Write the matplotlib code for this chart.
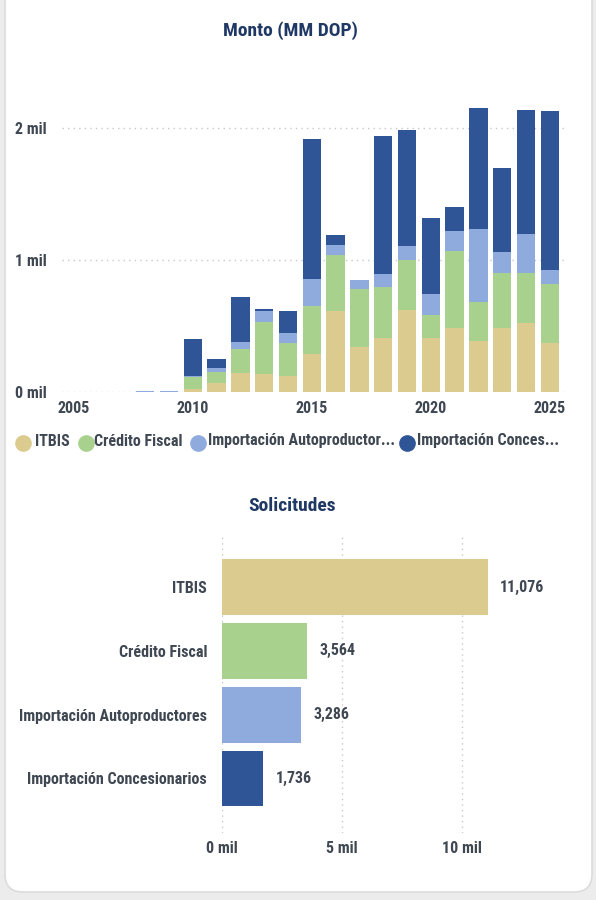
import matplotlib
matplotlib.use("Agg")
import numpy as np
from matplotlib import pyplot as plt
from matplotlib import font_manager
from matplotlib.patches import FancyBboxPatch
from matplotlib.lines import Line2D

# Monto (MM DOP) por año y tipo
years = [2008, 2009, 2010, 2011, 2012, 2013, 2014, 2015, 2016, 2017,
         2018, 2019, 2020, 2021, 2022, 2023, 2024, 2025]
itbis = [0, 0, 22, 68, 144, 134, 121, 283, 614, 341,
         409, 619, 409, 485, 386, 482, 518, 366]
credito = [0, 0, 92, 84, 179, 392, 246, 368, 421, 434,
           381, 378, 172, 583, 296, 417, 383, 450]
autoprod = [8, 9, 5, 25, 56, 85, 75, 202, 76, 71,
            99, 104, 159, 147, 550, 159, 296, 103]
conces = [0, 0, 280, 68, 341, 16, 167, 1061, 76, 0,
          1048, 884, 573, 186, 914, 634, 937, 1205]

series_names = ["ITBIS", "Crédito Fiscal", "Importación Autoproductores",
                "Importación Concesionarios"]
legend_labels = ["ITBIS", "Crédito Fiscal", "Importación Autoproductor...",
                 "Importación Conces..."]
colors = ["#dccb8f", "#a9d18e", "#8faadc", "#2f5597"]

# Solicitudes por tipo
solicitudes = [11076, 3564, 3286, 1736]

# pick a narrow font if there is one
available = {f.name for f in font_manager.fontManager.ttflist}
fam = "DejaVu Sans"
for cand in ["Roboto Condensed", "Liberation Sans Narrow", "DejaVu Sans"]:
    if cand in available:
        fam = cand
        break
plt.rcParams["font.family"] = [fam, "DejaVu Sans"]
plt.rcParams["font.weight"] = 600

txt = "#3e4752"
navy = "#1f3864"
fs = 11.5

fig = plt.figure(figsize=(5.96, 9), dpi=100)
fig.patch.set_facecolor("#ececec")
W, H = 596.0, 900.0

card = FancyBboxPatch((5 / W, 1 - 892 / H), 587 / W, 912 / H,
                      boxstyle="round,pad=0,rounding_size=0.03",
                      transform=fig.transFigure, facecolor="white",
                      edgecolor="#dcdcdc", linewidth=1.2, mutation_aspect=W / H,
                      zorder=-10)
fig.add_artist(card)

# ---- top chart: stacked columns
ax = fig.add_axes([62 / W, 1 - 391.7 / H, 502 / W, 290.4 / H])
ax.set_facecolor("none")
bottom = np.zeros(len(years))
for vals, c in zip([itbis, credito, autoprod, conces], colors):
    ax.bar(years, vals, width=0.77, bottom=bottom, color=c, zorder=3)
    bottom += np.array(vals)
ax.set_xlim(2004.5, 2025.6)
ax.set_ylim(0, 2200)
ax.set_yticks([0, 1000, 2000])
ax.set_yticklabels(["0 mil", "1 mil", "2 mil"])
ax.set_xticks([2005, 2010, 2015, 2020, 2025])
ax.grid(axis="y", linestyle=(0, (1, 3)), color="#c8c8c8", linewidth=1, zorder=0)
for s in ax.spines.values():
    s.set_visible(False)
ax.tick_params(length=0, labelsize=fs, labelcolor=txt)
ax.tick_params(axis="y", pad=11)
ax.tick_params(axis="x", pad=7)
fig.text(290 / W, 1 - 31 / H, "Monto (MM DOP)", ha="center", va="center",
         fontsize=14, color=navy, fontweight="bold")

# legend row
dot_x = [22.7, 86, 198, 407]
lab_x = [35, 94, 208, 417]
for dx, lx, lab, c in zip(dot_x, lab_x, legend_labels, colors):
    fig.add_artist(Line2D([dx / W], [1 - 443 / H], marker="o", markersize=11,
                          color=c, linestyle="none", transform=fig.transFigure))
    fig.text(lx / W, 1 - 441 / H, lab, ha="left", va="center", fontsize=fs,
             color=txt)

# ---- bottom chart: horizontal bars
ax2 = fig.add_axes([221.7 / W, 1 - 833 / H, 360 / W, 298 / H])
ax2.set_facecolor("none")
ypos = np.arange(len(series_names))
ax2.barh(ypos, solicitudes, height=0.875, color=colors, zorder=3)
ax2.set_ylim(3.855, -0.815)
ax2.set_xlim(0, 15000)
ax2.set_yticks(ypos)
ax2.set_yticklabels(series_names)
ax2.set_xticks([0, 5000, 10000])
ax2.set_xticklabels(["0 mil", "5 mil", "10 mil"])
ax2.grid(axis="x", linestyle=(0, (1, 3)), color="#c8c8c8", linewidth=1, zorder=0)
for s in ax2.spines.values():
    s.set_visible(False)
ax2.tick_params(length=0, labelsize=fs, labelcolor=txt)
ax2.tick_params(axis="y", pad=10.5)
ax2.tick_params(axis="x", pad=6)
for y, v in zip(ypos, solicitudes):
    ax2.annotate(f"{v:,}", (v, y), xytext=(9, 0), textcoords="offset points",
                 ha="left", va="center", fontsize=fs, color=txt)
fig.text(292 / W, 1 - 506 / H, "Solicitudes", ha="center", va="center",
         fontsize=14, color=navy, fontweight="bold")

fig.savefig("out.png", dpi=100, facecolor=fig.get_facecolor())
